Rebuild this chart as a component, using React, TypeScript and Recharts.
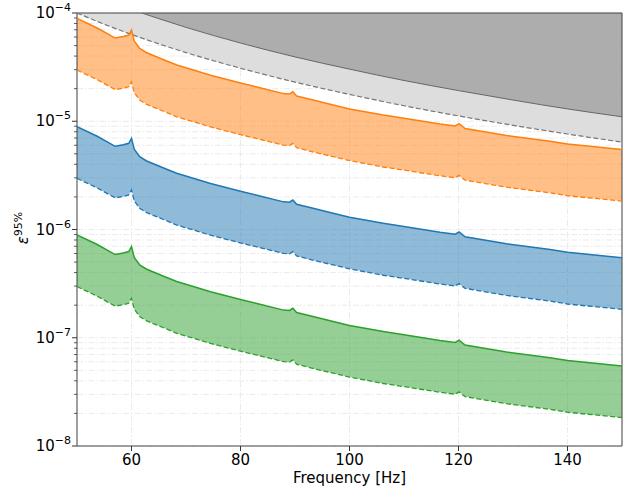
import {
  ComposedChart,
  Area,
  Line,
  XAxis,
  YAxis,
  CartesianGrid,
  ReferenceArea,
} from 'recharts'

const FONT = '"DejaVu Sans", sans-serif'

const freqs = [
  50, 53.7, 57, 58.5, 59.5, 60, 60.5, 61.5, 62.7, 64, 66, 68.3, 74.5, 80, 83, 87.9,
  89, 89.6, 90.3, 93.5, 97, 100, 106.2, 112.3, 116.6, 119.4, 120.1, 121.2, 128.8,
  136.8, 140, 150,
]

const orangeUpper = [
  8.9e-5, 7.27e-5, 5.87e-5, 6.06e-5, 6.26e-5, 6.97e-5, 5.51e-5, 4.7e-5, 4.32e-5, 4.05e-5,
  3.68e-5, 3.31e-5, 2.66e-5, 2.26e-5, 2.07e-5, 1.8e-5, 1.79e-5, 1.87e-5, 1.71e-5, 1.56e-5,
  1.41e-5, 1.3e-5, 1.14e-5, 1.02e-5, 9.43e-6, 9.04e-6, 9.49e-6, 8.57e-6, 7.38e-6, 6.53e-6,
  6.16e-6, 5.48e-6,
]
const orangeLower = [
  2.97e-5, 2.42e-5, 1.96e-5, 2.02e-5, 2.09e-5, 2.32e-5, 1.84e-5, 1.57e-5, 1.44e-5, 1.35e-5,
  1.23e-5, 1.1e-5, 8.87e-6, 7.52e-6, 6.91e-6, 6.01e-6, 5.95e-6, 6.24e-6, 5.7e-6, 5.18e-6,
  4.71e-6, 4.33e-6, 3.78e-6, 3.39e-6, 3.14e-6, 3.01e-6, 3.16e-6, 2.86e-6, 2.46e-6, 2.18e-6,
  2.05e-6, 1.83e-6,
]
const blueUpper = [
  8.9e-6, 7.27e-6, 5.87e-6, 6.06e-6, 6.26e-6, 6.97e-6, 5.51e-6, 4.7e-6, 4.32e-6, 4.05e-6,
  3.68e-6, 3.31e-6, 2.66e-6, 2.26e-6, 2.07e-6, 1.8e-6, 1.79e-6, 1.87e-6, 1.71e-6, 1.56e-6,
  1.41e-6, 1.3e-6, 1.14e-6, 1.02e-6, 9.43e-7, 9.04e-7, 9.49e-7, 8.57e-7, 7.38e-7, 6.53e-7,
  6.16e-7, 5.48e-7,
]
const blueLower = [
  2.97e-6, 2.42e-6, 1.96e-6, 2.02e-6, 2.09e-6, 2.32e-6, 1.84e-6, 1.57e-6, 1.44e-6, 1.35e-6,
  1.23e-6, 1.1e-6, 8.87e-7, 7.52e-7, 6.91e-7, 6.01e-7, 5.95e-7, 6.24e-7, 5.7e-7, 5.18e-7,
  4.71e-7, 4.33e-7, 3.78e-7, 3.39e-7, 3.14e-7, 3.01e-7, 3.16e-7, 2.86e-7, 2.46e-7, 2.18e-7,
  2.05e-7, 1.83e-7,
]
const greenUpper = [
  8.9e-7, 7.27e-7, 5.87e-7, 6.06e-7, 6.26e-7, 6.97e-7, 5.51e-7, 4.7e-7, 4.32e-7, 4.05e-7,
  3.68e-7, 3.31e-7, 2.66e-7, 2.26e-7, 2.07e-7, 1.8e-7, 1.79e-7, 1.87e-7, 1.71e-7, 1.56e-7,
  1.41e-7, 1.3e-7, 1.14e-7, 1.02e-7, 9.43e-8, 9.04e-8, 9.49e-8, 8.57e-8, 7.38e-8, 6.53e-8,
  6.16e-8, 5.48e-8,
]
const greenLower = [
  2.97e-7, 2.42e-7, 1.96e-7, 2.02e-7, 2.09e-7, 2.32e-7, 1.84e-7, 1.57e-7, 1.44e-7, 1.35e-7,
  1.23e-7, 1.1e-7, 8.87e-8, 7.52e-8, 6.91e-8, 6.01e-8, 5.95e-8, 6.24e-8, 5.7e-8, 5.18e-8,
  4.71e-8, 4.33e-8, 3.78e-8, 3.39e-8, 3.14e-8, 3.01e-8, 3.16e-8, 2.86e-8, 2.46e-8, 2.18e-8,
  2.05e-8, 1.83e-8,
]

// grey excluded region at the top
const greyFreqs = [50, 55, 60, 65, 70, 80, 90, 100, 110, 120, 130, 140, 150]
const greyDashed = [
  1e-4, 7.88e-5, 6.34e-5, 5.19e-5, 4.31e-5, 3.09e-5, 2.3e-5, 1.77e-5, 1.39e-5, 1.12e-5,
  9.17e-6, 7.62e-6, 6.42e-6,
]
const greySolid = [
  1.71e-4, 1.35e-4, 1.08e-4, 8.87e-5, 7.37e-5, 5.28e-5, 3.93e-5, 3.03e-5, 2.38e-5, 1.92e-5,
  1.57e-5, 1.3e-5, 1.1e-5,
]
const greyCeiling = 1e-3

const xTicks = [60, 80, 100, 120, 140]
const majorTicks = [1e-8, 1e-7, 1e-6, 1e-5, 1e-4]
const minorMantissas = [2, 3, 4, 5, 6, 7, 8, 9]

const yTicks: number[] = []
majorTicks.forEach((m, i) => {
  yTicks.push(m)
  if (i < majorTicks.length - 1) minorMantissas.forEach(k => yTicks.push(k * m))
})

const rows = freqs.map((f, i) => ({
  f,
  ou: orangeUpper[i],
  ol: orangeLower[i],
  bu: blueUpper[i],
  bl: blueLower[i],
  gu: greenUpper[i],
  gl: greenLower[i],
}))

const greyRows = greyFreqs.map((f, i) => ({
  f,
  dash: greyDashed[i],
  solid: greySolid[i],
  top: greyCeiling,
}))

const ORANGE = '#ff7f0e'
const BLUE = '#1f77b4'
const GREEN = '#2ca02c'

function YTick(props: any) {
  const { x, y, payload } = props
  const v = payload.value as number
  const e = Math.log10(v)
  const major = Math.abs(e - Math.round(e)) < 1e-6
  return (
    <g>
      <line x1={x - (major ? 5 : 3)} x2={x} y1={y} y2={y} stroke="#333" strokeWidth={major ? 1 : 0.8} />
      {major && (
        <text x={x - 6} y={y + 5} textAnchor="end" fontSize={15} fontFamily={FONT} fill="#000">
          10
          <tspan dy={-7} fontSize={11}>
            {'\u2212' + Math.abs(Math.round(e))}
          </tspan>
        </text>
      )}
    </g>
  )
}

function XTick(props: any) {
  const { x, y, payload } = props
  return (
    <g>
      <line x1={x} x2={x} y1={y} y2={y + 5} stroke="#333" />
      <text x={x} y={y + 19} textAnchor="middle" fontSize={15} fontFamily={FONT} fill="#000">
        {payload.value}
      </text>
    </g>
  )
}

export default function App() {
  return (
    <div style={{ position: 'absolute', left: 0, top: 0 }}>
      <ComposedChart
        width={630}
        height={486}
        data={rows}
        margin={{ top: 13, right: 8, bottom: 0, left: 0 }}
        style={{ fontFamily: FONT }}
      >
        <CartesianGrid stroke="#e6e6e6" strokeWidth={0.8} strokeDasharray="6 2 1.5 2" />
        <XAxis
          dataKey="f"
          type="number"
          domain={[50, 150]}
          ticks={xTicks}
          allowDataOverflow
          height={40}
          tickSize={0}
          tickMargin={0}
          axisLine={false}
          tickLine={false}
          tick={<XTick />}
          label={{ value: 'Frequency [Hz]', position: 'insideBottom', offset: 3, fontSize: 15, fill: '#000' }}
        />
        <YAxis
          type="number"
          scale="log"
          domain={[1e-8, 1e-4]}
          ticks={yTicks}
          allowDataOverflow
          width={77}
          tickSize={0}
          tickMargin={0}
          axisLine={false}
          tickLine={false}
          interval={0}
          tick={<YTick />}
        />

        <Area
          data={greyRows}
          dataKey={(d: any) => [d.dash, d.solid]}
          type="monotone"
          fill="#dddddd"
          fillOpacity={1}
          stroke="none"
          isAnimationActive={false}
        />
        <Area
          data={greyRows}
          dataKey={(d: any) => [d.solid, d.top]}
          type="monotone"
          fill="#adadad"
          fillOpacity={1}
          stroke="none"
          isAnimationActive={false}
        />
        <Line data={greyRows} dataKey="dash" type="monotone" stroke="#777" strokeWidth={1.2} strokeDasharray="5 2.5" dot={false} isAnimationActive={false} />
        <Line data={greyRows} dataKey="solid" type="monotone" stroke="#666" strokeWidth={1} dot={false} isAnimationActive={false} />

        <Area dataKey={(d: any) => [d.ol, d.ou]} type="linear" fill={ORANGE} fillOpacity={0.5} stroke="none" isAnimationActive={false} />
        <Area dataKey={(d: any) => [d.bl, d.bu]} type="linear" fill={BLUE} fillOpacity={0.5} stroke="none" isAnimationActive={false} />
        <Area dataKey={(d: any) => [d.gl, d.gu]} type="linear" fill={GREEN} fillOpacity={0.5} stroke="none" isAnimationActive={false} />

        <Line dataKey="ou" type="linear" stroke={ORANGE} strokeWidth={1.5} dot={false} isAnimationActive={false} />
        <Line dataKey="ol" type="linear" stroke={ORANGE} strokeWidth={1.3} strokeDasharray="5 2.5" dot={false} isAnimationActive={false} />
        <Line dataKey="bu" type="linear" stroke={BLUE} strokeWidth={1.5} dot={false} isAnimationActive={false} />
        <Line dataKey="bl" type="linear" stroke={BLUE} strokeWidth={1.3} strokeDasharray="5 2.5" dot={false} isAnimationActive={false} />
        <Line dataKey="gu" type="linear" stroke={GREEN} strokeWidth={1.5} dot={false} isAnimationActive={false} />
        <Line dataKey="gl" type="linear" stroke={GREEN} strokeWidth={1.3} strokeDasharray="5 2.5" dot={false} isAnimationActive={false} />

        <ReferenceArea x1={50} x2={150} y1={1e-8} y2={1e-4} fill="none" stroke="#444" strokeWidth={1} />

        <text
          transform="rotate(-90)"
          x={-228}
          y={27.5}
          textAnchor="middle"
          fontSize={15}
          fontFamily={FONT}
          fill="#000"
        >
          <tspan fontStyle="italic">ε</tspan>
          <tspan dy={-6} fontSize={11}>95%</tspan>
        </text>
      </ComposedChart>
    </div>
  )
}
